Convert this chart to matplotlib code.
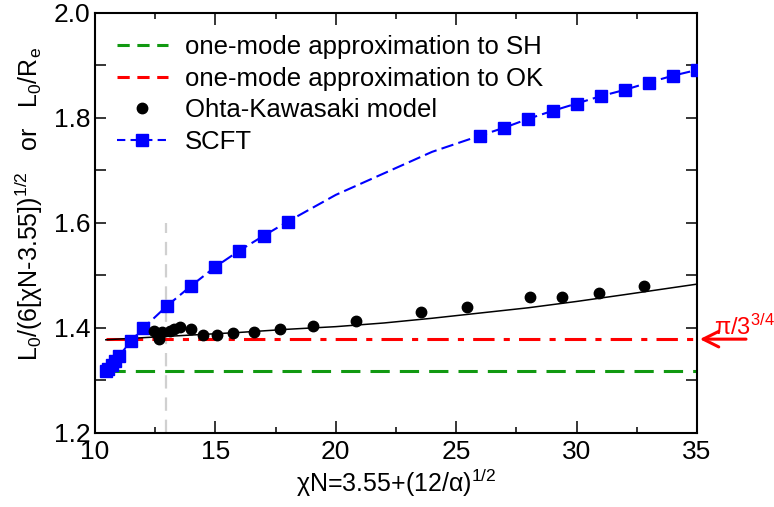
import numpy as np
import matplotlib
matplotlib.use("Agg")
import matplotlib.pyplot as plt
from matplotlib.lines import Line2D

plt.rcParams['font.family'] = ['Liberation Sans', 'DejaVu Sans']
plt.rcParams['mathtext.fontset'] = 'custom'
plt.rcParams['mathtext.rm'] = 'Liberation Sans'
plt.rcParams['mathtext.it'] = 'Liberation Sans:italic'
plt.rcParams['mathtext.default'] = 'regular'

# SCFT (blue squares)
scft_x = [10.45, 10.55, 10.7, 10.85, 11.0, 11.5, 12, 13, 14, 15, 16, 17, 18,
          26, 27, 28, 29, 30, 31, 32, 33, 34, 35]
scft_y = [1.318, 1.322, 1.329, 1.337, 1.346, 1.375, 1.399, 1.442, 1.480, 1.516,
          1.547, 1.575, 1.602, 1.766, 1.781, 1.798, 1.813, 1.827, 1.841, 1.853,
          1.867, 1.880, 1.891]
# dashed curve in the stretch without markers
scft_gap_x = [20, 22, 24]
scft_gap_y = [1.653, 1.694, 1.735]

# Ohta-Kawasaki model (black dots)
ok_x = [12.45, 12.6, 12.65, 12.8, 13.1, 13.3, 13.55, 14.0, 14.5, 15.05, 15.75,
        16.6, 17.7, 19.05, 20.85, 23.55, 25.45, 28.05, 29.4, 30.95, 32.8]
ok_y = [1.394, 1.387, 1.378, 1.392, 1.393, 1.397, 1.402, 1.397, 1.386, 1.387,
        1.389, 1.392, 1.397, 1.403, 1.413, 1.429, 1.440, 1.458, 1.458, 1.467,
        1.480]

# black solid curve
fit_x = [10.45, 12, 14, 16, 18, 20, 22, 24, 26, 28, 30, 32, 35]
fit_y = [1.377, 1.381, 1.386, 1.391, 1.397, 1.402, 1.409, 1.418, 1.428, 1.438,
         1.450, 1.463, 1.483]

# one-mode approximations
sh_x = [10.45, 35]
sh_val = 1.318
okm_x = [10.45, 35]
okm_val = np.pi / 3 ** 0.75

vline_x = 12.95

fig = plt.figure(figsize=(7.74, 5.07), dpi=100)
ax = fig.add_axes([95 / 774, 1 - 432.7 / 507, 602 / 774, 420 / 507])

ax.plot([vline_x, vline_x], [1.2, 1.6], color='#d0d0d0', lw=1.6,
        dashes=(6, 4), zorder=1)
ax.plot(sh_x, [sh_val, sh_val], color='#119911', lw=2.2, dashes=(6.3, 3.3), zorder=2)
ax.plot(okm_x, [okm_val, okm_val], color='red', lw=2.2, dashes=(7, 3, 2, 3), zorder=2)

line_x = sorted(scft_x + scft_gap_x)
line_y = [dict(zip(scft_x + scft_gap_x, scft_y + scft_gap_y))[v] for v in line_x]
ax.plot(line_x, line_y, color='blue', lw=1.5, dashes=(6, 2.5), zorder=3)
ax.plot(scft_x, scft_y, 's', color='blue', ms=8.5, zorder=4)

ax.plot(fit_x, fit_y, color='black', lw=1.1, zorder=3)
ax.plot(ok_x, ok_y, 'o', color='black', ms=7.5, zorder=5)

ax.annotate('', xy=(35, okm_val), xytext=(37.15, okm_val),
            arrowprops=dict(arrowstyle='->', color='red', lw=2.2, mutation_scale=28),
            annotation_clip=False)
ax.text(35.7, 1.386, r'π/3$^{3/4}$', color='red', fontsize=17,
        clip_on=False)

ax.set_xlim(10, 35)
ax.set_ylim(1.2, 2.0)
ax.set_xticks([10, 15, 20, 25, 30, 35])
ax.set_xticks(np.arange(12.5, 35, 5), minor=True)
ax.set_yticks([1.2, 1.4, 1.6, 1.8, 2.0])
ax.set_yticks([1.3, 1.5, 1.7, 1.9], minor=True)
ax.set_yticklabels(['1.2', '1.4', '1.6', '1.8', '2.0'])

ax.tick_params(which='both', direction='in', top=True, right=True, width=1.1,
               labelsize=19)
ax.tick_params(axis='x', which='major', length=8.5, pad=5)
ax.tick_params(axis='x', which='minor', length=4.3)
ax.tick_params(axis='y', which='both', length=8, pad=3.5)
for s in ax.spines.values():
    s.set_linewidth(1.5)

ax.set_xlabel(r'χN=3.55+(12/α)$^{1/2}$', fontsize=18, labelpad=2)
fig.text(0.038, 0.598,
         r'L$_0$/(6[χN-3.55])$^{1/2}$   or   L$_0$/R$_e$',
         rotation=90, ha='center', va='center', fontsize=18)

handles = [
    Line2D([], [], color='#119911', lw=2.2, dashes=(4, 2.5)),
    Line2D([], [], color='red', lw=2.2, dashes=(4, 2.5)),
    Line2D([], [], color='black', marker='o', ls='none', ms=7.5),
    Line2D([], [], color='blue', lw=1.5, dashes=(4, 2.5), marker='s', ms=8.5),
]
labels = ['one-mode approximation to SH', 'one-mode approximation to OK',
          'Ohta-Kawasaki model', 'SCFT']
ax.legend(handles, labels, loc='upper left', bbox_to_anchor=(0.036, 0.947),
          frameon=False, fontsize=18.5, borderpad=0, borderaxespad=0,
          handlelength=2.0, handletextpad=0.65, labelspacing=0.3)

fig.savefig('out.png', dpi=100)
